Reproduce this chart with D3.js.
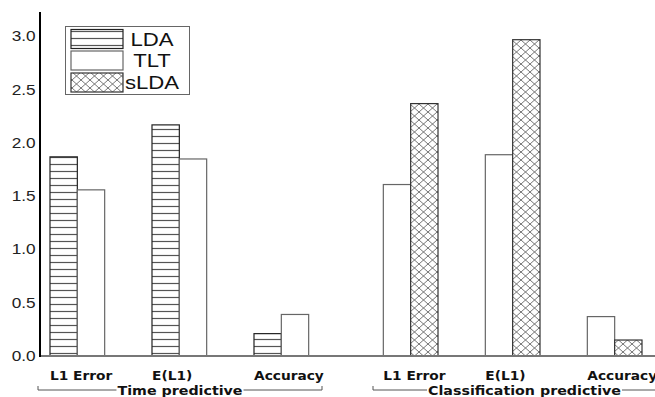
<!DOCTYPE html>
<html>
<head>
<meta charset="utf-8">
<script src="https://cdn.jsdelivr.net/npm/d3@7"></script>
<style>
  html, body { margin: 0; padding: 0; background: #fff; }
  svg { display: block; }
</style>
</head>
<body>
<svg id="chart" width="655" height="397"></svg>
<script>
// Metric names shown under each cluster of bars
const metrics = ["L1 Error", "E(L1)", "Accuracy"];
// Experiment families, each spanning three metric clusters
const families = ["Time predictive", "Classification predictive"];
const seriesNames = ["LDA", "TLT", "sLDA"];

// Values per family, in metric order (null = not reported)
const ldaTime = [1.87, 2.17, 0.21];
const tltTime = [1.56, 1.85, 0.39];
const sldaTime = [null, null, null];
const ldaClass = [null, null, null];
const tltClass = [1.61, 1.89, 0.37];
const sldaClass = [2.37, 2.97, 0.15];

const yTicks = [0, 0.5, 1.0, 1.5, 2.0, 2.5, 3.0];

// Flatten into one row per metric cluster
const clusters = [];
families.forEach((fam, fi) => {
  const src = fi === 0 ? [ldaTime, tltTime, sldaTime] : [ldaClass, tltClass, sldaClass];
  metrics.forEach((m, mi) => {
    clusters.push({
      key: fam + "|" + m, family: fam, metric: m,
      values: seriesNames.map((s, si) => ({ series: s, value: src[si][mi] }))
    });
  });
});

const svg = d3.select("#chart");
const axisX = 40, baseY = 356, topY = 12;
const stretch = 1.23;     // wide sans face for ticks and legend
const boldStretch = 1.1;  // bold category captions

const x = d3.scaleBand()
  .domain(clusters.map(c => c.key))
  .range([axisX, 652])
  .paddingInner(0.196)
  .paddingOuter(0.098);
const xs = d3.scaleBand().domain(seriesNames).range([0, x.bandwidth()]);
const y = d3.scaleLinear().domain([0, 3.23]).range([baseY, topY]);

// Fill patterns
const defs = svg.append("defs");
const hp = defs.append("pattern").attr("id", "hatch-h")
  .attr("patternUnits", "userSpaceOnUse").attr("width", 10).attr("height", 7);
hp.append("rect").attr("width", 10).attr("height", 7).attr("fill", "#fff");
hp.append("line").attr("x1", 0).attr("x2", 10).attr("y1", 3.5).attr("y2", 3.5)
  .attr("stroke", "#555").attr("stroke-width", 1.2);

const xp = defs.append("pattern").attr("id", "hatch-x")
  .attr("patternUnits", "userSpaceOnUse").attr("width", 9).attr("height", 8);
xp.append("rect").attr("width", 9).attr("height", 8).attr("fill", "#fff");
xp.append("path").attr("d", "M0,0L9,8M9,0L0,8")
  .attr("stroke", "#666").attr("stroke-width", 0.9).attr("fill", "none");

const fills = { "LDA": "url(#hatch-h)", "TLT": "#fff", "sLDA": "url(#hatch-x)" };
const strokes = { "LDA": "#222", "TLT": "#666", "sLDA": "#333" };

// Bars
const g = svg.append("g").selectAll("g").data(clusters).join("g")
  .attr("transform", d => `translate(${x(d.key)},0)`);
g.selectAll("rect").data(d => d.values.filter(v => v.value !== null)).join("rect")
  .attr("x", d => xs(d.series))
  .attr("y", d => y(d.value))
  .attr("width", xs.bandwidth())
  .attr("height", d => baseY - y(d.value))
  .attr("fill", d => fills[d.series])
  .attr("stroke", d => strokes[d.series])
  .attr("stroke-width", 1.2);

// Y axis labels
const yAxis = svg.append("g").attr("transform", `translate(${axisX},0)`)
  .call(d3.axisLeft(y).tickValues(yTicks).tickFormat(d3.format(".1f")).tickSize(0).tickPadding(3.5));
yAxis.select(".domain").remove();
yAxis.selectAll("text")
  .attr("font-family", "Liberation Sans, Arial, sans-serif")
  .attr("font-size", 14).attr("fill", "#222")
  .attr("transform", `scale(${stretch},1)`);

// Axis lines
svg.append("line").attr("x1", axisX).attr("x2", 655).attr("y1", baseY).attr("y2", baseY)
  .attr("stroke", "#777").attr("stroke-width", 2);
svg.append("line").attr("x1", axisX).attr("x2", axisX).attr("y1", topY).attr("y2", baseY + 1)
  .attr("stroke", "#000").attr("stroke-width", 2);

// Metric labels, starting at the first drawn bar of each cluster
svg.append("g").selectAll("text").data(clusters).join("text")
  .attr("transform", d => {
    const first = d.values.find(v => v.value !== null);
    return `translate(${x(d.key) + xs(first.series)},380) scale(${boldStretch},1)`;
  })
  .attr("font-family", "DejaVu Sans, Verdana, sans-serif")
  .attr("font-weight", "bold").attr("font-size", 12.5).attr("fill", "#111")
  .text(d => d.metric);

// Family brackets with captions
const brackets = [
  { name: families[0], x1: 38, x2: 322 },
  { name: families[1], x1: 373, x2: 676 }
];
const bracketLayer = svg.append("g");
const captionLayer = svg.append("g");
brackets.forEach(b => {
  const cy = 390;
  const cx = (b.x1 + b.x2) / 2;
  const t = captionLayer.append("text")
    .attr("transform", `translate(${cx},${cy + 5}) scale(${boldStretch + 0.04},1)`)
    .attr("text-anchor", "middle")
    .attr("font-family", "DejaVu Sans, Verdana, sans-serif")
    .attr("font-weight", "bold").attr("font-size", 12.5).attr("fill", "#111")
    .text(b.name);
  const w = t.node().getComputedTextLength() * (boldStretch + 0.04);
  bracketLayer.append("path")
    .attr("d", `M${b.x1},${cy - 4}V${cy}H${cx - w / 2 - 1}M${cx + w / 2 + 1},${cy}H${b.x2}V${cy - 4}`)
    .attr("fill", "none").attr("stroke", "#555").attr("stroke-width", 1);
});

// Legend
const lg = svg.append("g");
lg.append("rect").attr("x", 65.5).attr("y", 26.5).attr("width", 124).attr("height", 68)
  .attr("fill", "#fff").attr("stroke", "#666").attr("stroke-width", 1);
const rowY = [29.5, 51, 73];
seriesNames.forEach((s, i) => {
  lg.append("rect").attr("x", 71).attr("y", rowY[i]).attr("width", 52).attr("height", 19)
    .attr("fill", fills[s]).attr("stroke", strokes[s]).attr("stroke-width", 1.2);
  lg.append("text")
    .attr("transform", `translate(152,${rowY[i] + 16}) scale(${stretch},1)`)
    .attr("text-anchor", "middle")
    .attr("font-family", "Liberation Sans, Arial, sans-serif")
    .attr("font-size", 18).attr("fill", "#111")
    .text(s);
});
</script>
</body>
</html>
